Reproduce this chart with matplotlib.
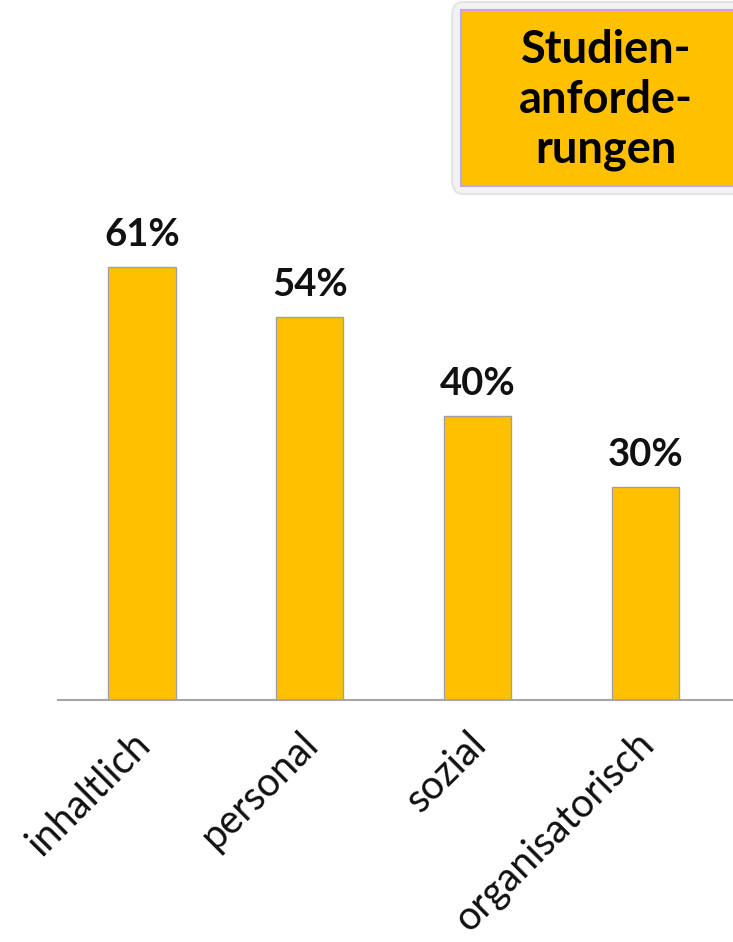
import matplotlib.pyplot as plt
import matplotlib.transforms as mtransforms
from matplotlib.patches import FancyBboxPatch

categories = ['inhaltlich', 'personal', 'sozial', 'organisatorisch']
values = [61, 54, 40, 30]
title_text = 'Studien-\nanforde-\nrungen'

W, H = 733, 942
fig = plt.figure(figsize=(W / 100, H / 100), dpi=100)
ax = fig.add_axes([58 / W, 242 / H, (733 - 58) / W, 500 / H])

x = range(len(categories))
ax.bar(x, values, width=0.4, color='#FFC000', edgecolor='#A0A0A0', linewidth=1.0)
for xi, v in zip(x, values):
    ax.text(xi, v + 2.1, f'{v}%', ha='center', va='bottom', fontsize=27.5,
            fontweight='bold', family='Lato', color='#111111')

ax.set_xlim(-0.5, 3.52)
ax.set_ylim(0, 500 / 7.1)
for s in ['top', 'right', 'left']:
    ax.spines[s].set_visible(False)
ax.spines['bottom'].set_color('#A6A6A6')
ax.spines['bottom'].set_linewidth(1.5)
ax.set_yticks([])
ax.set_xticks(list(x))
ax.set_xticklabels(categories, rotation=45, ha='right', va='top',
                   rotation_mode='anchor', fontsize=28.5, family='Lato',
                   color='#111111')
ax.tick_params(axis='x', length=0, pad=18)
# nudge the rotated labels a little to the left
shift = mtransforms.ScaledTranslation(-0.11, 0, fig.dpi_scale_trans)
for lbl in ax.get_xticklabels():
    lbl.set_transform(lbl.get_transform() + shift)

# title box in the upper right
outer = FancyBboxPatch((452 / W, 1 - 194 / H), 300 / W, 192 / H,
                       boxstyle='round,pad=0,rounding_size=0.015',
                       transform=fig.transFigure, facecolor='#F2F2F2',
                       edgecolor='#E4E4E4', linewidth=1.5, clip_on=False)
inner = FancyBboxPatch((461 / W, 1 - 186 / H), 290 / W, 176 / H,
                       boxstyle='square,pad=0', transform=fig.transFigure,
                       facecolor='#FFC000', edgecolor='#C8A2F0', linewidth=1.5)
fig.patches.extend([outer, inner])
fig.text(606 / W, 1 - 100 / H, title_text, ha='center', va='center',
         fontsize=32.5, fontweight='bold', family='Lato', color='black',
         linespacing=1.22)

fig.savefig('out.png', dpi=100)
